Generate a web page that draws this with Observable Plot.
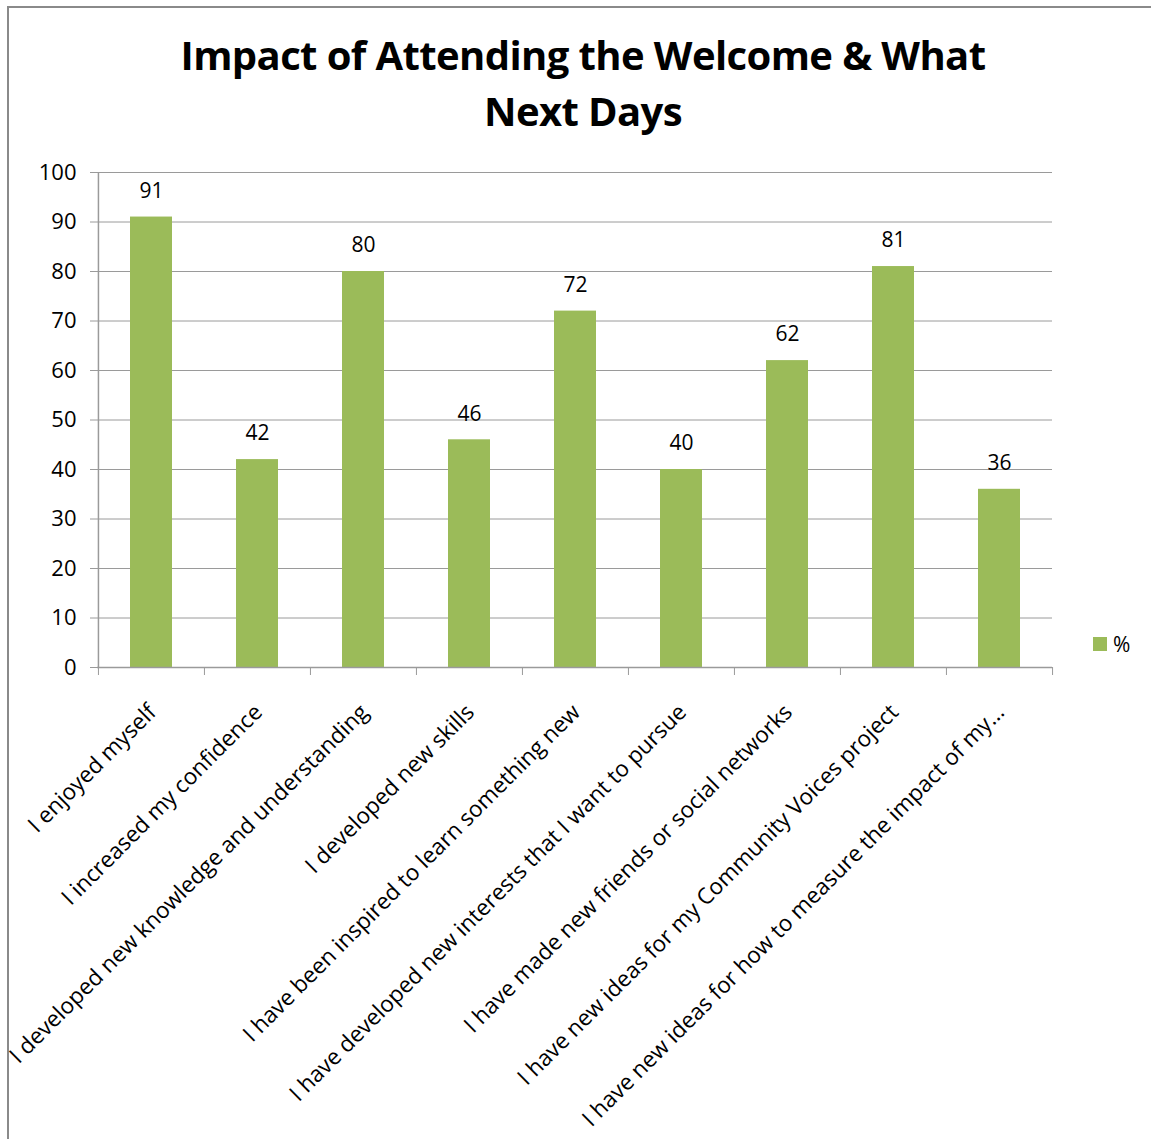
<!DOCTYPE html>
<html>
<head>
<meta charset="utf-8">
<script src="https://cdn.jsdelivr.net/npm/d3@7"></script>
<script src="https://cdn.jsdelivr.net/npm/@observablehq/plot@0.6"></script>
<style>
  html, body { margin: 0; padding: 0; background: #fff; }
  #page { position: relative; width: 1151px; height: 1139px; overflow: hidden; font-family: "Open Sans", sans-serif; }
  #frame { position: absolute; left: 7px; top: 6px; width: 1160px; height: 1160px; border-left: 2px solid #8a8a8a; border-top: 2px solid #8a8a8a; box-sizing: border-box; }
  #title { position: absolute; left: 0; top: 27px; width: 1166px; text-align: center; font-weight: 700; font-size: 40px; letter-spacing: -0.6px; line-height: 56px; color: #000; }
  #chart { position: absolute; left: 0; top: 150px; }
  #legend { position: absolute; left: 1093px; top: 630px; font-size: 21px; color: #000; display: flex; align-items: center; }
  #legend span.sw { display: inline-block; width: 14px; height: 14px; background: #9bbb59; margin-right: 6px; }
</style>
</head>
<body>
<div id="page">
  <div id="frame"></div>
  <div id="title">Impact of Attending the Welcome &amp; What<br>Next Days</div>
  <div id="chart"></div>
  <div id="legend"><span class="sw"></span><span>%</span></div>
</div>
<script>
const categories = [
  "I enjoyed myself",
  "I increased my confidence",
  "I developed new knowledge and understanding",
  "I developed new skills",
  "I have been inspired to learn something new",
  "I have developed new interests that I want to pursue",
  "I have made new friends or social networks",
  "I have new ideas for my Community Voices project",
  "I have new ideas for how to measure the impact of my…"
];
const values = [91, 42, 80, 46, 72, 40, 62, 81, 36];
const yTicks = [0, 10, 20, 30, 40, 50, 60, 70, 80, 90, 100];
const seriesName = "%";

const data = categories.map((c, i) => ({category: c, value: values[i]}));

const W = 1151, H = 989;
const mL = 97, mR = 99, mT = 22, mB = 472;
const step = (W - mL - mR) / categories.length;
const green = "#9bbb59";
const grid = "#9a9a9a";

const chart = Plot.plot({
  width: W,
  height: H,
  marginLeft: mL,
  marginRight: mR,
  marginTop: mT,
  marginBottom: mB,
  style: {fontFamily: "'Open Sans', sans-serif", fontSize: "21px", color: "#000", background: "transparent"},
  x: {domain: categories, paddingInner: 0.607, paddingOuter: 0.3035, align: 0.5, label: null},
  y: {domain: [0, 100], label: null},
  marks: [
    Plot.gridY(yTicks, {stroke: grid, strokeOpacity: 1, strokeWidth: 1}),
    Plot.axisY(yTicks, {tickSize: 7, tickPadding: 14, stroke: grid, fontSize: 22, fill: "#000", label: null}),
    Plot.barY(data, {x: "category", y: "value", fill: green}),
    Plot.axisX({tickSize: 8, text: null, dx: -step / 2, stroke: grid, label: null}),
    Plot.axisX([categories[categories.length - 1]], {tickSize: 8, text: null, dx: step / 2, stroke: grid, label: null}),
    Plot.ruleY([0], {stroke: grid, strokeWidth: 1.5}),
    Plot.ruleX([categories[0]], {x: (d) => d, dx: -step / 2, stroke: grid, strokeWidth: 1.5}),
    Plot.text(data, {x: "category", y: "value", text: (d) => String(d.value), dy: -26, fontSize: 21, fill: "#000"}),
    Plot.text(categories, {x: (d) => d, frameAnchor: "bottom", rotate: -45, textAnchor: "end", lineAnchor: "middle", dx: 1, dy: 41, fontSize: 22.5, fill: "#000"})
  ]
});
document.getElementById("chart").appendChild(chart);
</script>
</body>
</html>
